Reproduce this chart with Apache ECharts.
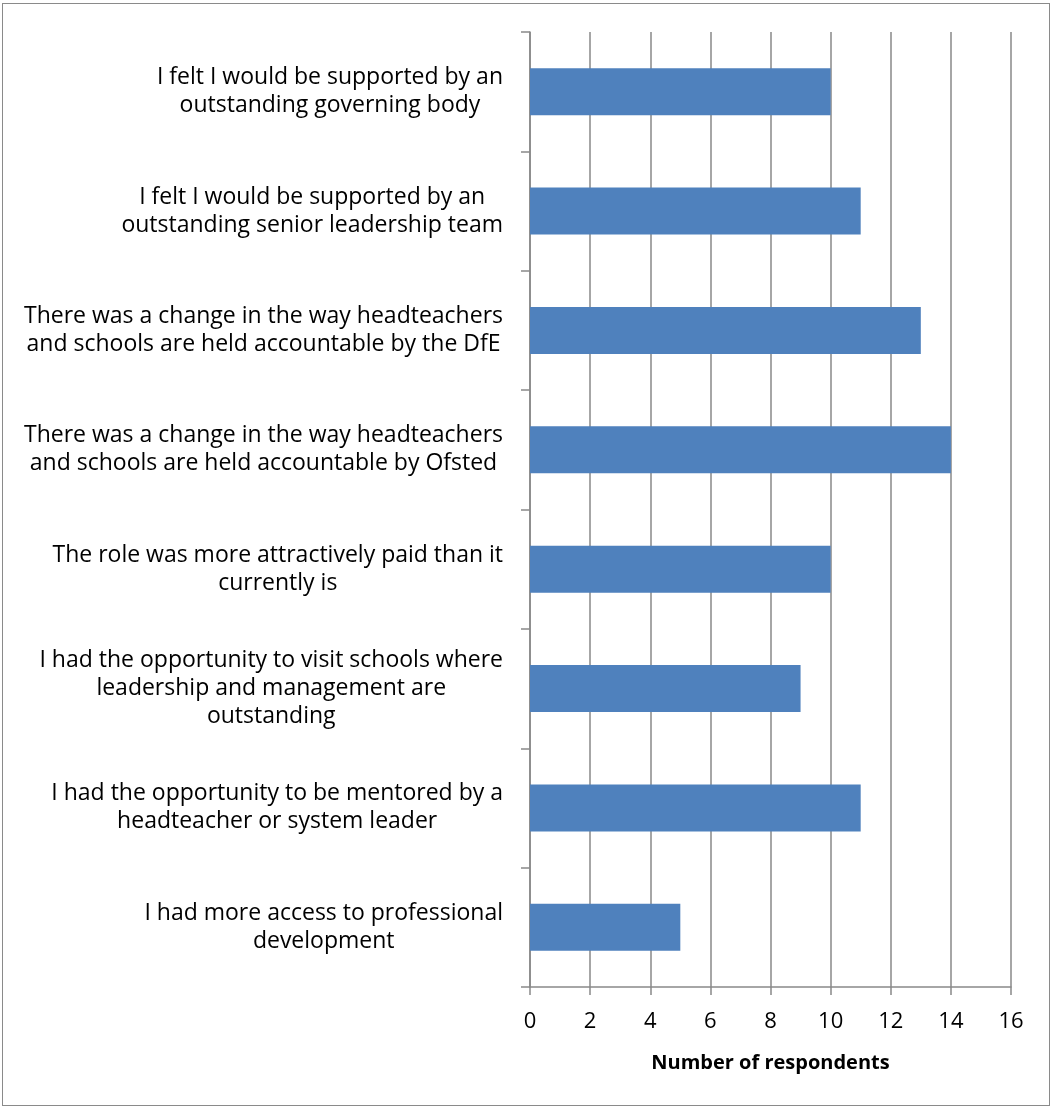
<!DOCTYPE html>
<html>
<head>
<meta charset="utf-8">
<script src="https://cdn.jsdelivr.net/npm/echarts@6/dist/echarts.min.js"></script>
<style>
  html, body { margin: 0; padding: 0; background: #fff; }
  #frame { position: absolute; left: 2px; top: 3px; width: 1048px; height: 1103px; border: 1.5px solid #8a8a8a; box-sizing: border-box; }
  #chart { position: absolute; left: 0; top: 0; width: 1053px; height: 1110px; }
</style>
</head>
<body>
<div id="frame"></div>
<div id="chart"></div>
<script>
// Reasons that would make respondents consider headship (top to bottom)
const categories = [
  'I felt I would be supported by an\noutstanding governing body',
  'I felt I would be supported by an\noutstanding senior leadership team',
  'There was a change in the way headteachers\nand schools are held accountable by the DfE',
  'There was a change in the way headteachers\nand schools are held accountable by Ofsted',
  'The role was more attractively paid than it\ncurrently is',
  'I had the opportunity to visit schools where\nleadership and management are\noutstanding',
  'I had the opportunity to be mentored by a\nheadteacher or system leader',
  'I had more access to professional\ndevelopment'
];
const respondents = [10, 11, 13, 14, 10, 9, 11, 5];
const xTicks = { min: 0, max: 16, interval: 2 };
const xAxisTitle = 'Number of respondents';

const FONT = 'Open Sans';
const GRID_GRAY = '#898989';

const chart = echarts.init(document.getElementById('chart'), null, { renderer: 'canvas' });
chart.setOption({
  animation: false,
  backgroundColor: 'transparent',
  grid: { left: 530, right: 42, top: 32, bottom: 123, containLabel: false },
  xAxis: {
    type: 'value',
    min: xTicks.min, max: xTicks.max, interval: xTicks.interval,
    name: xAxisTitle,
    nameLocation: 'middle',
    nameGap: 66,
    nameTextStyle: { fontFamily: FONT, fontSize: 20, fontWeight: 'bold', color: '#000' },
    axisLine: { show: true, lineStyle: { color: GRID_GRAY, width: 1.5 } },
    axisTick: { show: true, length: 8, lineStyle: { color: GRID_GRAY, width: 1.5 } },
    axisLabel: { margin: 24, fontFamily: FONT, fontSize: 22, color: '#000' },
    splitLine: { show: true, lineStyle: { color: GRID_GRAY, width: 1.5 } }
  },
  yAxis: {
    type: 'category',
    inverse: true,
    data: categories,
    axisLine: { show: true, lineStyle: { color: GRID_GRAY, width: 1.5 } },
    axisTick: { show: true, length: 9, alignWithLabel: false, lineStyle: { color: GRID_GRAY, width: 1.5 } },
    axisLabel: {
      margin: 27,
      align: 'right',
      formatter: function (v) {
        return v.split('\n').map(function (l) { return '{c|' + l + '}'; }).join('\n');
      },
      rich: {
        c: { align: 'center', fontFamily: FONT, fontSize: 23, lineHeight: 28, color: '#000' }
      }
    },
    splitLine: { show: false }
  },
  series: [{
    type: 'bar',
    data: respondents,
    barWidth: 47,
    itemStyle: { color: '#4F81BD' }
  }]
});
</script>
</body>
</html>
